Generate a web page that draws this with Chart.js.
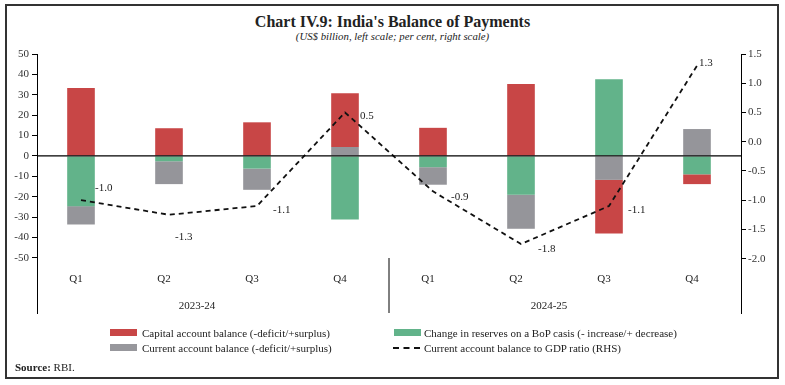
<!DOCTYPE html>
<html><head><meta charset="utf-8">
<script src="https://cdn.jsdelivr.net/npm/chart.js@4.4.1/dist/chart.umd.min.js"></script>
<style>
html,body{margin:0;padding:0;background:#fff;}
#wrap{position:relative;width:785px;height:385px;overflow:hidden;font-family:"Liberation Serif",serif;color:#222;}
#frame{position:absolute;left:5px;top:4px;width:770px;height:371px;border:2px solid #333;}
#title{position:absolute;left:0;width:785px;top:12px;text-align:center;font-weight:bold;font-size:16px;line-height:20px;}
#sub{position:absolute;left:0;width:785px;top:29px;text-align:center;font-style:italic;font-size:10.8px;line-height:14px;}
canvas{position:absolute;left:0;top:0;}
.lg{position:absolute;font-size:11px;line-height:14px;white-space:nowrap;}
.sw{position:absolute;width:27px;height:7px;}
#source{position:absolute;left:15px;top:360px;font-size:11px;line-height:14px;}
</style></head>
<body><div id="wrap">
<div id="frame"></div>
<div id="title">Chart IV.9: India's Balance of Payments</div>
<div id="sub">(US$ billion, left scale; per cent, right scale)</div>
<canvas id="c" width="785" height="385"></canvas>
<div class="sw" style="left:110px;top:329px;background:#C84646"></div>
<div class="lg" style="left:142px;top:326px">Capital account balance (-deficit/+surplus)</div>
<div class="sw" style="left:394px;top:329px;background:#62B38A"></div>
<div class="lg" style="left:424px;top:326px">Change in reserves on a BoP casis (- increase/+ decrease)</div>
<div class="sw" style="left:110px;top:344px;background:#97979C"></div>
<div class="lg" style="left:142px;top:341px">Current account balance (-deficit/+surplus)</div>
<div style="position:absolute;left:393px;top:347px;width:27px;height:0;border-top:2px dashed #111"></div>
<div class="lg" style="left:424px;top:341px">Current account balance to GDP ratio (RHS)</div>
<div id="source"><b>Source:</b> RBI.</div>
</div>
<script>
const categories = ['Q1','Q2','Q3','Q4','Q1','Q2','Q3','Q4'];
const years = ['2023-24','2024-25'];
const capitalAccount = [33.3, 13.6, 16.5, 26.3, 13.8, 35.3, -26.3, -4.8];
const reserveChange = [-24.6, -2.6, -6.2, -31.1, -5.5, -19.0, 37.6, -9.0];
const currentAccount = [-9.0, -11.2, -10.4, 4.4, -8.6, -16.7, -11.7, 13.2];
const cabGdp = [-1.0, -1.25, -1.1, 0.5, -0.85, -1.75, -1.1, 1.3];
const cabGdpLabels = ['-1.0','-1.3','-1.1','0.5','-0.9','-1.8','-1.1','1.3'];
const leftTicks = [50, 40, 30, 20, 10, 0, -10, -20, -30, -40, -50];
const rightTicks = [1.5, 1.0, 0.5, 0.0, -0.5, -1.0, -1.5, -2.0];

const labelOffsets = [[14,-12],[6,22],[16,4],[15,4],[18,6],[17,5],[19,4],[2,-3]];
const FONT = '"Liberation Serif", serif';

const decor = {
  id: 'decor',
  afterDatasetsDraw(chart) {
    const ctx = chart.ctx, a = chart.chartArea;
    const x = chart.scales.x, y = chart.scales.y;
    ctx.save();
    const y0 = y.getPixelForValue(0);
    ctx.strokeStyle = '#000'; ctx.lineWidth = 1.3;
    ctx.beginPath(); ctx.moveTo(a.left, y0); ctx.lineTo(a.right, y0); ctx.stroke();
    const sx = (x.getPixelForValue(3) + x.getPixelForValue(4)) / 2;
    ctx.lineWidth = 1;
    ctx.beginPath(); ctx.moveTo(sx, 258); ctx.lineTo(sx, a.bottom); ctx.stroke();
    ctx.fillStyle = '#222'; ctx.font = '11px ' + FONT;
    ctx.textAlign = 'center'; ctx.textBaseline = 'middle';
    categories.forEach((c, i) => ctx.fillText(c, x.getPixelForValue(i) - 5, 279));
    years.forEach((yr, g) => {
      const cx = (x.getPixelForValue(g*4) + x.getPixelForValue(g*4+3)) / 2;
      ctx.fillText(yr, cx - 16, 306);
    });
    const meta = chart.getDatasetMeta(0);
    ctx.textAlign = 'left';
    meta.data.forEach((pt, i) => {
      const o = labelOffsets[i];
      ctx.fillText(cabGdpLabels[i], pt.x + o[0], pt.y + o[1]);
    });
    ctx.restore();
  }
};

new Chart(document.getElementById('c'), {
  data: {
    labels: categories,
    datasets: [
      { type: 'line', label: 'Current account balance to GDP ratio (RHS)', data: cabGdp, yAxisID: 'y1',
        borderColor: '#111', borderWidth: 1.8, borderDash: [5, 4], pointRadius: 0, fill: false, tension: 0 },
      { type: 'bar', label: 'Change in reserves on a BoP casis (- increase/+ decrease)', data: reserveChange,
        backgroundColor: '#62B38A', yAxisID: 'y', barPercentage: 0.314, categoryPercentage: 1 },
      { type: 'bar', label: 'Current account balance (-deficit/+surplus)', data: currentAccount,
        backgroundColor: '#95959A', yAxisID: 'y', barPercentage: 0.314, categoryPercentage: 1 },
      { type: 'bar', label: 'Capital account balance (-deficit/+surplus)', data: capitalAccount,
        backgroundColor: '#C84646', yAxisID: 'y', barPercentage: 0.314, categoryPercentage: 1 }
    ]
  },
  options: {
    responsive: false, animation: false,
    layout: { padding: { top: 54, bottom: 72, left: 0, right: 0 } },
    plugins: { legend: { display: false }, tooltip: { enabled: false } },
    scales: {
      x: { display: false, stacked: true, offset: true },
      y: {
        position: 'left', stacked: true, min: -77, max: 50,
        afterBuildTicks(s) { s.ticks = leftTicks.map(v => ({ value: v })); },
        afterFit(s) { s.width = 37; },
        grid: { display: true, drawOnChartArea: false, drawTicks: true, tickLength: 5, color: '#000' },
        border: { display: true, color: '#000', width: 1 },
        ticks: { padding: 3, color: '#333', font: { family: FONT, size: 11 } }
      },
      y1: {
        position: 'right', min: -2.93, max: 1.5,
        afterBuildTicks(s) { s.ticks = rightTicks.map(v => ({ value: v })); },
        afterFit(s) { s.width = 44; },
        grid: { display: true, drawOnChartArea: false, drawTicks: true, tickLength: 5, color: '#000' },
        border: { display: true, color: '#000', width: 1 },
        ticks: { padding: 2, color: '#333', font: { family: FONT, size: 11 }, callback: v => v.toFixed(1) }
      }
    }
  },
  plugins: [decor]
});
</script>
</body></html>
